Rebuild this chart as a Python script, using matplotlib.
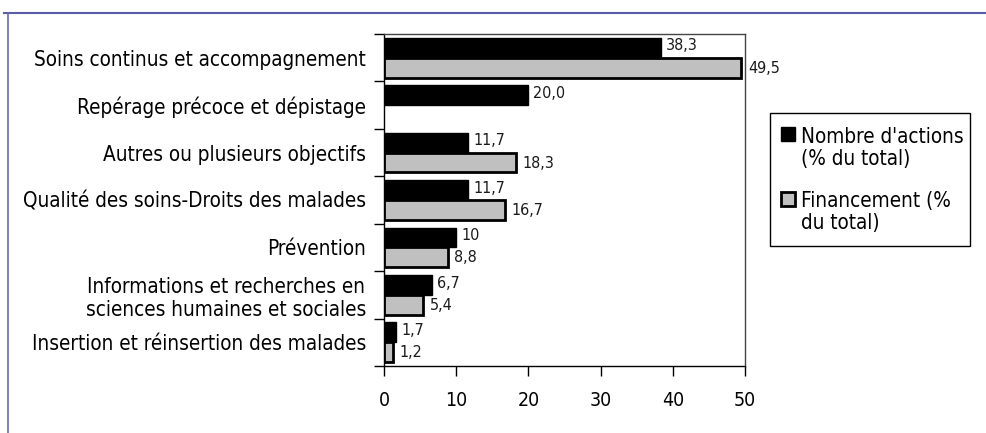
import matplotlib
matplotlib.use("Agg")
import matplotlib.pyplot as plt
from matplotlib.lines import Line2D
from matplotlib.patches import Rectangle
import numpy as np

categories = [
    "Soins continus et accompagnement",
    "Repérage précoce et dépistage",
    "Autres ou plusieurs objectifs",
    "Qualité des soins-Droits des malades",
    "Prévention",
    "Informations et recherches en\nsciences humaines et sociales",
    "Insertion et réinsertion des malades",
]
actions = [38.3, 20.0, 11.7, 11.7, 10.0, 6.7, 1.7]
actions_labels = ["38,3", "20,0", "11,7", "11,7", "10", "6,7", "1,7"]
financement = [49.5, None, 18.3, 16.7, 8.8, 5.4, 1.2]
financement_labels = ["49,5", "", "18,3", "16,7", "8,8", "5,4", "1,2"]
series_names = [["Nombre d'actions", "(% du total)"], ["Financement (%", "du total)"]]
series_colors = ["black", "#c0c0c0"]
x_ticks = [0, 10, 20, 30, 40, 50]

W, H = 986, 433
fig = plt.figure(figsize=(W / 100, H / 100), dpi=100)
plt.rcParams['font.family'] = ['DejaVu Sans']
STRETCH = "condensed"

left, right, top, bottom = 384, 745, 34, 366
ax = fig.add_axes([left / W, 1 - bottom / H, (right - left) / W, (bottom - top) / H])

n = len(categories)
idx = np.arange(n)
h = 0.42
fs_lab = 14.9

for i in range(n):
    ax.barh(i + 0.29, actions[i], height=h, color=series_colors[0], edgecolor="black", linewidth=1)
    ax.text(actions[i] + 0.7, i + 0.25, actions_labels[i], va="center", ha="left",
            fontsize=11.5, color="#1a1a1a", fontstretch=STRETCH)
    if financement[i] is not None:
        ax.barh(i + 0.71, financement[i], height=h, color=series_colors[1], edgecolor="black", linewidth=2)
        ax.text(financement[i] + 0.9, i + 0.72, financement_labels[i], va="center", ha="left",
                fontsize=11.5, color="#1a1a1a", fontstretch=STRETCH)

ax.set_xlim(0, 50)
ax.set_ylim(n, 0)
ax.set_xticks(x_ticks)
ax.set_xticklabels([str(t) for t in x_ticks], fontsize=14, fontstretch=STRETCH)
ax.set_yticks(idx + 0.5)
ax.set_yticklabels(categories, fontsize=fs_lab, multialignment="center", fontstretch=STRETCH)
ax.set_yticks(np.arange(n + 1), minor=True)
ax.tick_params(axis="y", which="major", length=0, pad=13)
ax.tick_params(axis="y", which="minor", length=7, width=1, direction="out")
ax.tick_params(axis="x", which="major", length=7, width=1, direction="out", pad=11)
for s in ax.spines.values():
    s.set_linewidth(1)
ax.spines["top"].set_color("#444444")
ax.spines["right"].set_color("#444444")

# legend drawn in figure pixel coordinates (Excel-style, marker aligned with first line)
def fx(px):
    return px / W
def fy(py):
    return 1 - py / H

fig.add_artist(Rectangle((fx(770), fy(246)), fx(970) - fx(770), fy(113) - fy(246),
                         transform=fig.transFigure, facecolor="white", edgecolor="black", lw=1))
sq_tops = [127, 192]
baselines = [[143, 165], [207, 229]]
for k in range(2):
    fig.add_artist(Rectangle((fx(781), fy(sq_tops[k] + 14)), fx(795) - fx(781),
                             fy(sq_tops[k]) - fy(sq_tops[k] + 14),
                             transform=fig.transFigure, facecolor=series_colors[k], edgecolor="black",
                             lw=1 if k == 0 else 2))
    for j, line in enumerate(series_names[k]):
        fig.text(fx(801), fy(baselines[k][j]), line, fontsize=fs_lab, va="baseline", ha="left",
                 fontstretch=STRETCH)

# outer frame lines
fig.add_artist(Line2D([4 / W, 1], [1 - 13 / H, 1 - 13 / H], color="#5b5ba8", lw=1.5))
fig.add_artist(Line2D([8 / W, 8 / W], [0, 1 - 13 / H], color="#6a6aa8", lw=1.2))

fig.savefig("out.png", dpi=100)
